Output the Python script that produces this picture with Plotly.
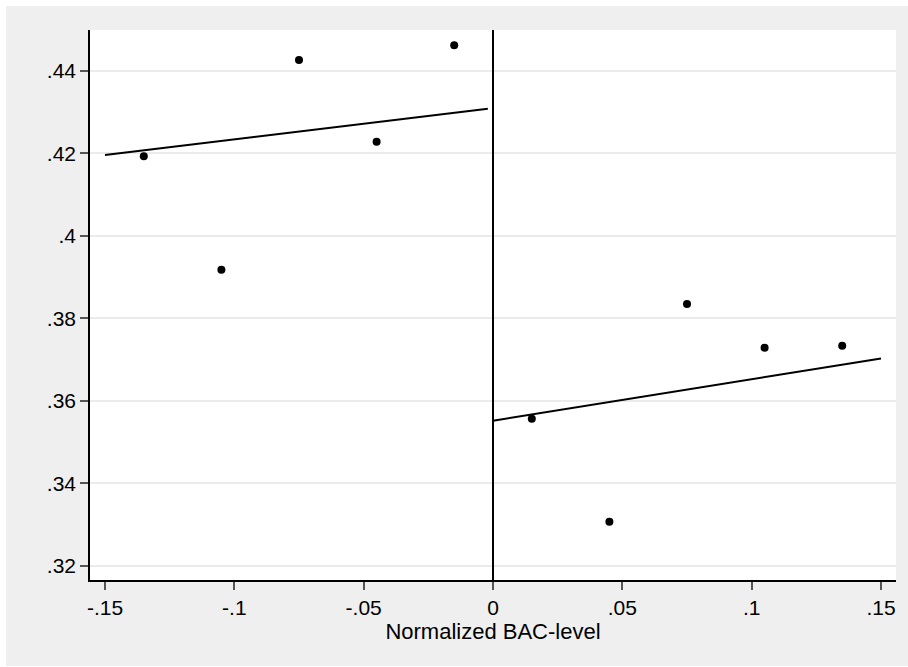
import plotly.graph_objects as go

# Binned means (below / above the cutoff)
bins_left = [-0.135, -0.105, -0.075, -0.045, -0.015]
means_left = [0.4193, 0.3918, 0.4426, 0.4228, 0.4462]
bins_right = [0.015, 0.045, 0.075, 0.105, 0.135]
means_right = [0.3557, 0.3307, 0.3835, 0.3729, 0.3734]

# Linear fits on each side
fit_left_x = [-0.15, -0.002]
fit_left_y = [0.4196, 0.4308]
fit_right_x = [0.0, 0.15]
fit_right_y = [0.3552, 0.3703]

cutoff = 0.0

x_tickvals = [-0.15, -0.1, -0.05, 0, 0.05, 0.1, 0.15]
x_ticktext = ["-.15", "-.1", "-.05", "0", ".05", ".1", ".15"]
y_tickvals = [0.32, 0.34, 0.36, 0.38, 0.40, 0.42, 0.44]
y_ticktext = [".32", ".34", ".36", ".38", ".4", ".42", ".44"]

x_title = "Normalized BAC-level"

fig = go.Figure()

for xs, ys in [(bins_left, means_left), (bins_right, means_right)]:
    fig.add_trace(go.Scatter(
        x=xs, y=ys, mode="markers",
        marker=dict(color="black", size=8),
        showlegend=False, hoverinfo="skip"))

for xs, ys in [(fit_left_x, fit_left_y), (fit_right_x, fit_right_y)]:
    fig.add_trace(go.Scatter(
        x=xs, y=ys, mode="lines",
        line=dict(color="black", width=2),
        showlegend=False, hoverinfo="skip"))

# outer gray background (with thin white strip top/left)
fig.add_shape(type="rect", xref="paper", yref="paper",
              x0=-84 / 806, x1=1 + 12 / 806, y0=-86 / 550, y1=1 + 24 / 550,
              fillcolor="#efefef", line=dict(width=0), layer="below")
# white plot area
fig.add_shape(type="rect", xref="paper", yref="paper",
              x0=0, x1=1, y0=0, y1=1,
              fillcolor="white", line=dict(width=0), layer="below")

# cutoff line
fig.add_shape(type="line", xref="x", yref="paper",
              x0=cutoff, x1=cutoff, y0=0, y1=1,
              line=dict(color="black", width=2))

fig.update_layout(
    width=908, height=667,
    margin=dict(l=90, r=12, t=30, b=87),
    paper_bgcolor="white",
    plot_bgcolor="rgba(0,0,0,0)",
    font=dict(family="Liberation Sans, Arial, sans-serif", size=21, color="black"),
    xaxis=dict(
        range=[-0.1558, 0.1558],
        tickvals=x_tickvals, ticktext=x_ticktext,
        ticks="outside", ticklen=8, tickwidth=1.5, tickcolor="#555555",
        showline=True, linecolor="black", linewidth=1.5,
        showgrid=False, zeroline=False,
        title=dict(text=x_title, font=dict(size=22), standoff=2),
    ),
    yaxis=dict(
        range=[0.3166, 0.4499],
        tickvals=y_tickvals, ticktext=y_ticktext,
        ticks="outside", ticklen=8, tickwidth=1.5, tickcolor="#555555",
        showline=True, linecolor="black", linewidth=1.5,
        showgrid=True, gridcolor="#ebebeb", gridwidth=1.5,
        zeroline=False,
    ),
)

fig.write_html("out.html",
               config={"displayModeBar": False},
               post_script="document.body.style.margin='0';document.body.style.overflow='hidden';")
